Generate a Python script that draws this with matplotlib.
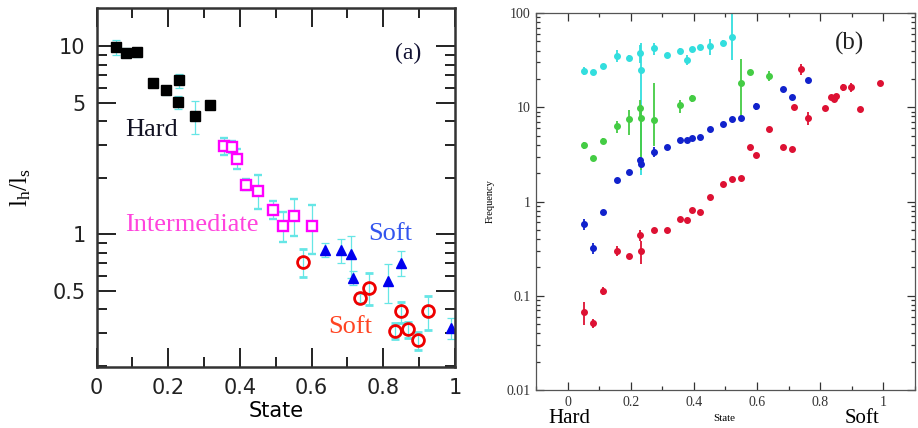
import numpy as np
import matplotlib
matplotlib.use("Agg")
import matplotlib.pyplot as plt
from matplotlib.ticker import FixedLocator, FixedFormatter, NullFormatter, LogLocator, MultipleLocator
from matplotlib.transforms import blended_transform_factory

# ---------------- Panel (a) data ----------------
hard_x = [0.053, 0.081, 0.113, 0.156, 0.193, 0.231, 0.228, 0.274, 0.316]
hard_y = [9.9, 9.26, 9.33, 6.38, 5.83, 6.59, 5.04, 4.26, 4.86]
hard_err = [0.9, 0.5, 0.5, 0.2, 0.3, 0.55, 0.4, 0.85, 0.2]

inter_x = [0.355, 0.379, 0.393, 0.417, 0.449, 0.491, 0.519, 0.551, 0.600]
inter_y = [2.94, 2.92, 2.53, 1.84, 1.71, 1.35, 1.11, 1.26, 1.11]
inter_err = [0.3, 0.2, 0.3, 0.12, 0.35, 0.15, 0.2, 0.28, 0.32]

softb_x = [0.637, 0.681, 0.709, 0.716, 0.812, 0.849, 0.988]
softb_y = [0.829, 0.822, 0.783, 0.586, 0.562, 0.707, 0.318]
softb_err = [0.07, 0.12, 0.2, 0.05, 0.13, 0.11, 0.04]

softr_x = [0.577, 0.735, 0.760, 0.834, 0.849, 0.870, 0.896, 0.924]
softr_y = [0.712, 0.46, 0.52, 0.308, 0.389, 0.312, 0.273, 0.389]
softr_err = [0.12, 0.03, 0.1, 0.03, 0.05, 0.03, 0.03, 0.08]

a_yticks = [0.5, 1, 5, 10]
a_yticklabels = ["0.5", "1", "5", "10"]
a_xticks = [0, 0.2, 0.4, 0.6, 0.8, 1]
a_xticklabels = ["0", "0.2", "0.4", "0.6", "0.8", "1"]

# ---------------- Panel (b) data ----------------
cyan_x = [0.053, 0.081, 0.113, 0.157, 0.196, 0.228, 0.233, 0.275, 0.315, 0.357,
          0.378, 0.394, 0.418, 0.452, 0.492, 0.520]
cyan_y = [24.3, 23.6, 27.5, 35.4, 33.7, 37.5, 24.9, 42.4, 36.0, 40.0,
          31.9, 41.7, 43.4, 44.9, 48.6, 55.4]
cyan_lo = [2.5, 1.5, 1.5, 5.0, 2.0, 8.0, 23.0, 6.5, 1.5, 3.0, 4.0, 2.0, 2.0, 9.0, 3.0, 24.0]
cyan_hi = [2.5, 1.5, 1.5, 5.0, 2.0, 8.0, 23.0, 6.0, 1.5, 3.0, 4.0, 2.0, 2.0, 8.0, 3.0, 50.0]

green_x = [0.053, 0.081, 0.113, 0.157, 0.196, 0.228, 0.233, 0.275, 0.357, 0.394,
           0.550, 0.577, 0.638]
green_y = [3.93, 2.86, 4.40, 6.25, 7.54, 9.94, 7.66, 7.35, 10.5, 12.4,
           18.0, 23.6, 21.5]
green_lo = [0.3, 0.2, 0.3, 0.9, 2.5, 2.0, 5.5, 3.5, 1.8, 1.0, 10.3, 1.5, 2.5]
green_hi = [0.3, 0.2, 0.3, 0.9, 1.8, 2.0, 3.0, 10.7, 1.5, 1.0, 14.4, 1.5, 2.5]

blue_x = [0.053, 0.081, 0.113, 0.157, 0.196, 0.228, 0.233, 0.275, 0.315, 0.357,
          0.378, 0.394, 0.418, 0.452, 0.492, 0.520, 0.550, 0.598, 0.683, 0.711, 0.762]
blue_y = [0.575, 0.32, 0.783, 1.68, 2.06, 2.79, 2.51, 3.37, 3.80, 4.51,
          4.51, 4.74, 4.86, 5.90, 6.67, 7.54, 7.60, 10.2, 15.6, 13.0, 19.5]
blue_err = [0.08, 0.04, 0.03, 0.1, 0.1, 0.15, 0.1, 0.4, 0.15, 0.15,
            0.15, 0.15, 0.15, 0.2, 0.2, 0.2, 0.2, 0.8, 0.6, 0.6, 0.6]

red_x = [0.053, 0.081, 0.113, 0.157, 0.196, 0.228, 0.233, 0.275, 0.315, 0.357,
         0.378, 0.394, 0.418, 0.452, 0.492, 0.520, 0.550, 0.577, 0.598, 0.638,
         0.683, 0.711, 0.716, 0.739, 0.762, 0.815, 0.834, 0.844, 0.850, 0.871,
         0.896, 0.926, 0.989]
red_y = [0.067, 0.051, 0.113, 0.302, 0.265, 0.44, 0.30, 0.50, 0.50, 0.66,
         0.63, 0.82, 0.78, 1.11, 1.54, 1.73, 1.78, 3.77, 3.13, 5.81,
         3.80, 3.59, 10.0, 25.4, 7.72, 9.78, 12.8, 12.2, 13.2, 16.3,
         16.3, 9.62, 18.0]
red_err = [0.018, 0.006, 0.01, 0.035, 0.015, 0.06, 0.085, 0.02, 0.02, 0.025,
           0.025, 0.03, 0.03, 0.04, 0.05, 0.06, 0.06, 0.15, 0.12, 0.25,
           0.15, 0.15, 0.4, 3.5, 1.2, 0.4, 0.5, 0.5, 0.5, 1.5,
           1.8, 0.4, 0.7]

b_yticks = [0.01, 0.1, 1, 10, 100]
b_yticklabels = ["0.01", "0.1", "1", "10", "100"]
b_xticks = [0, 0.2, 0.4, 0.6, 0.8, 1]
b_xticklabels = ["0", "0.2", "0.4", "0.6", "0.8", "1"]

# ---------------- Figure ----------------
fig = plt.figure(figsize=(9.18, 4.28), dpi=100)
serif = "Liberation Serif"
sans = "DejaVu Sans"

# Panel (a)
axa = fig.add_axes([0.1053, 0.1425, 0.3903, 0.8388])
axa.set_yscale("log")
axa.set_xlim(0, 1)
axa.set_ylim(0.197, 16)
ecol = "#66e6e6"
ekw = dict(ecolor=ecol, elinewidth=0.9, capsize=3.2, capthick=0.9, linestyle="none", zorder=2)
axa.errorbar(hard_x, hard_y, yerr=hard_err, fmt="s", ms=6.5, mfc="black", mec="black", **ekw)
axa.errorbar(inter_x, inter_y, yerr=inter_err, fmt="s", ms=6.8, mfc="white", mec="#ff00ff", mew=1.7, **ekw)
axa.errorbar(softb_x, softb_y, yerr=softb_err, fmt="^", ms=6.8, mfc="#0000ee", mec="#0000ee", **ekw)
axa.errorbar(softr_x, softr_y, yerr=softr_err, fmt="o", ms=8.5, mfc="none", mec="#ee0000", mew=2.0, **ekw)

axa.yaxis.set_major_locator(FixedLocator(a_yticks))
axa.yaxis.set_major_formatter(FixedFormatter(a_yticklabels))
axa.yaxis.set_minor_locator(LogLocator(base=10, subs=np.arange(2, 10) * 1.0))
axa.yaxis.set_minor_formatter(NullFormatter())
axa.xaxis.set_major_locator(FixedLocator(a_xticks))
axa.xaxis.set_major_formatter(FixedFormatter(a_xticklabels))
axa.xaxis.set_minor_locator(MultipleLocator(0.1))
axa.tick_params(which="both", direction="in", top=True, right=True, colors="#222222",
                labelsize=15, width=1.4)
axa.tick_params(which="major", length=14, pad=8)
axa.tick_params(which="minor", length=7)
for lab in axa.get_xticklabels() + axa.get_yticklabels():
    lab.set_fontfamily(sans)
for s in axa.spines.values():
    s.set_linewidth(1.8)
    s.set_color("#333333")
axa.set_xlabel("State", fontsize=15, family=sans, labelpad=2)
axa.set_ylabel(r"$\mathregular{l_h/l_s}$", fontsize=18, family=serif, labelpad=14)

axa.text(0.869, 9.2, "(a)", fontsize=17, family=serif, ha="center", va="center", color="#111133")
axa.text(0.153, 3.57, "Hard", fontsize=19, family=serif, ha="center", va="center", color="#111122")
axa.text(0.265, 1.12, "Intermediate", fontsize=19, family=serif, ha="center", va="center", color="#ff44dd")
axa.text(0.819, 1.0, "Soft", fontsize=19, family=serif, ha="center", va="center", color="#3355ee")
axa.text(0.707, 0.32, "Soft", fontsize=19, family=serif, ha="center", va="center", color="#ff4422")

# Panel (b)
axb = fig.add_axes([0.5839, 0.0888, 0.4128, 0.8808])
axb.set_yscale("log")
axb.set_xlim(-0.1, 1.1)
axb.set_ylim(0.01, 100)

def draw(ax, x, y, lo, hi, c):
    ax.errorbar(x, y, yerr=[lo, hi], fmt="o", ms=4, mfc=c, mec=c, ecolor=c,
                elinewidth=1.3, capsize=0, linestyle="none")

draw(axb, cyan_x, cyan_y, cyan_lo, cyan_hi, "#33dede")
draw(axb, green_x, green_y, green_lo, green_hi, "#44cc44")
draw(axb, blue_x, blue_y, blue_err, blue_err, "#1122cc")
draw(axb, red_x, red_y, red_err, red_err, "#dd1133")

axb.yaxis.set_major_locator(FixedLocator(b_yticks))
axb.yaxis.set_major_formatter(FixedFormatter(b_yticklabels))
axb.yaxis.set_minor_locator(LogLocator(base=10, subs=np.arange(2, 10) * 1.0))
axb.yaxis.set_minor_formatter(NullFormatter())
axb.xaxis.set_major_locator(FixedLocator(b_xticks))
axb.xaxis.set_major_formatter(FixedFormatter(b_xticklabels))
axb.xaxis.set_minor_locator(MultipleLocator(0.1))
axb.tick_params(which="both", direction="in", top=True, right=True, colors="#333333",
                labelsize=10, width=0.9)
axb.tick_params(which="major", length=6, pad=4)
axb.tick_params(which="minor", length=3)
for lab in axb.get_xticklabels() + axb.get_yticklabels():
    lab.set_fontfamily(serif)
for s in axb.spines.values():
    s.set_linewidth(0.9)
    s.set_color("#555555")
axb.set_ylabel("Frequency", fontsize=7.5, family=serif, labelpad=8)
axb.text(0.893, 47, "(b)", fontsize=18, family=serif, ha="center", va="center", color="#222222")
tr = blended_transform_factory(axb.transData, axb.transAxes)
axb.text(0.005, -0.075, "Hard", fontsize=15, family=serif, ha="center", va="center", transform=tr)
axb.text(0.497, -0.075, "State", fontsize=8, family=serif, ha="center", va="center", transform=tr)
axb.text(0.932, -0.075, "Soft", fontsize=15, family=serif, ha="center", va="center", transform=tr)

fig.savefig("out.png", dpi=100)
